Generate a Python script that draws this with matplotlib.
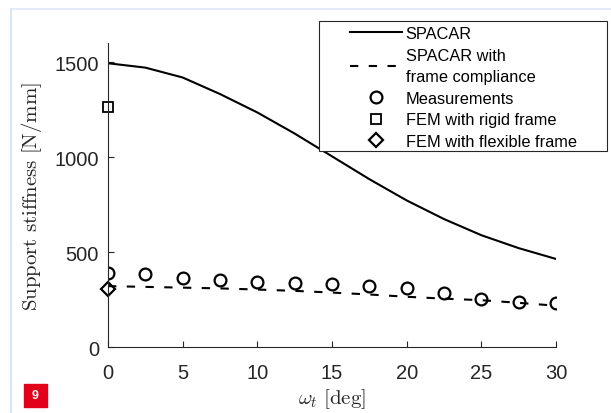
import matplotlib
matplotlib.use('Agg')
import matplotlib.pyplot as plt
from matplotlib.patches import Rectangle
from matplotlib.lines import Line2D

plt.rcParams['font.family'] = ['Liberation Sans', 'DejaVu Sans']
plt.rcParams['mathtext.fontset'] = 'cm'

# tilt angle [deg]
omega = [0, 2.5, 5, 7.5, 10, 12.5, 15, 17.5, 20, 22.5, 25, 27.5, 30]
# SPACAR model (rigid frame)
spacar = [1495, 1472, 1420, 1333, 1236, 1125, 1005, 885, 773, 675, 590, 522, 465]
# SPACAR with frame compliance
spacar_frame = [322, 318, 314, 310, 304, 297, 288, 278, 266, 256, 248, 234, 219]
# measured stiffness
meas = [391, 386, 363, 354, 342, 337, 333, 321, 310, 286, 254, 237, 233]
# FEM results at 0 deg
fem_x = [0]
fem_rigid = [1263]
fem_flex = [307]

W, H = 611, 414
fig = plt.figure(figsize=(W / 100, H / 100), dpi=100)
ax = fig.add_axes([108 / W, 1 - 348.3 / H, 448 / W, 304 / H])

gray = '#262626'
ax.plot(omega, spacar, '-', color='k', lw=1.5, label='SPACAR')
ax.plot(omega, spacar_frame, '--', color='k', lw=1.5, dashes=(4, 5),
        label='SPACAR with\nframe compliance')
ax.plot(omega, meas, 'o', ls='none', mfc='none', mec='k', ms=8.5, mew=1.6,
        label='Measurements')
ax.plot(fem_x, fem_rigid, 's', ls='none', mfc='none', mec='k', ms=6.5, mew=1.3,
        label='FEM with rigid frame', clip_on=False)
ax.plot(fem_x, fem_flex, 'D', ls='none', mfc='none', mec='k', ms=7, mew=1.6,
        label='FEM with flexible frame', clip_on=False)

ax.set_xlim(0, 30)
ax.set_ylim(0, 1600)
ax.set_xticks([0, 5, 10, 15, 20, 25, 30])
ax.set_yticks([0, 500, 1000, 1500])
ax.spines['top'].set_visible(False)
ax.spines['right'].set_visible(False)
for s in ['left', 'bottom']:
    ax.spines[s].set_color(gray)
    ax.spines[s].set_linewidth(0.8)
ax.tick_params(direction='in', length=4, width=0.8, color=gray,
               labelcolor=gray, labelsize=14.5)
ax.tick_params(axis='x', pad=11)
ax.tick_params(axis='y', pad=6.5)

ax.set_ylabel(r'$\mathrm{Support\ stiffness\ [N/mm]}$', fontsize=15, color=gray)
ax.set_xlabel(r'$\omega_t\ \mathrm{[deg]}$', fontsize=15, color=gray)
ax.yaxis.set_label_coords(-0.143, 0.5)
ax.xaxis.set_label_coords(0.5, -0.128)

# legend without frame + separate opaque box behind it
leg = ax.legend(loc='upper left', bbox_to_anchor=(350 / W, 1 - 27 / H),
                bbox_transform=fig.transFigure, frameon=False, fontsize=11.8,
                handlelength=3.2, handletextpad=0.2, labelspacing=0.4,
                borderpad=0, borderaxespad=0)
for t in leg.get_texts():
    t.set_color('k')
    t.set_linespacing(1.55)
leg.set_zorder(6)
box = Rectangle((319 / W, 1 - 152.3 / H), (607 - 319) / W, (152.3 - 21.7) / H,
                transform=fig.transFigure, facecolor='white', edgecolor=gray,
                lw=0.8, zorder=5, clip_on=False)
ax.add_patch(box)

# page decoration: light blue frame and red figure number
fig.add_artist(Line2D([10.5 / W, 10.5 / W], [0, 1 - 9.5 / H], transform=fig.transFigure,
                      color='#cddff5', lw=1.2))
fig.add_artist(Line2D([10.5 / W, 1], [1 - 9.5 / H, 1 - 9.5 / H], transform=fig.transFigure,
                      color='#dde9f8', lw=1.2))
fig.patches.append(Rectangle((24 / W, 1 - 407.5 / H), 23 / W, 22.5 / H,
                             transform=fig.transFigure, color='#e2001a'))
fig.text(35.5 / W, 1 - 396 / H, '9', color='white', fontsize=9, fontweight='bold',
         ha='center', va='center')

fig.savefig('out.png', dpi=100)
